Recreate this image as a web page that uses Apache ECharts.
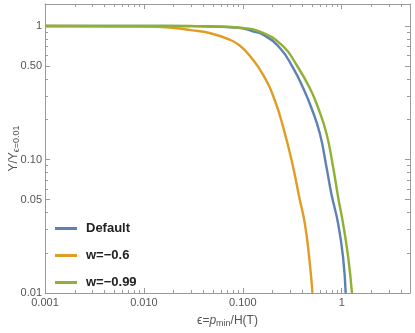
<!DOCTYPE html>
<html>
<head>
<meta charset="utf-8">
<script src="https://cdn.jsdelivr.net/npm/echarts@6/dist/echarts.min.js"></script>
<style>
  html, body { margin: 0; padding: 0; background: #fff; }
  #chart { width: 415px; height: 333px; }
</style>
</head>
<body>
<div id="chart"></div>
<script>
// values (log-log plot)
const seriesNames = ["Default", "w=\u22120.6", "w=\u22120.99"]
const colors = ["#5E81B5", "#E19C24", "#8FB032"]

const xDefault = [0.001, 0.01, 0.03, 0.05, 0.074, 0.1, 0.126, 0.16, 0.237, 0.322, 0.407, 0.494, 0.6, 0.7, 0.787, 0.918, 1.03, 1.096]
const yDefault = [1, 1, 0.997, 0.99, 0.978, 0.96, 0.91, 0.861, 0.684, 0.485, 0.343, 0.243, 0.157, 0.0883, 0.055, 0.0333, 0.0187, 0.01]

const xW06 = [0.001, 0.01, 0.02, 0.03, 0.046, 0.074, 0.093, 0.118, 0.16, 0.21, 0.266, 0.322, 0.371, 0.423, 0.468, 0.506]
const yW06 = [1, 0.99, 0.966, 0.93, 0.886, 0.789, 0.714, 0.596, 0.432, 0.279, 0.157, 0.0883, 0.0526, 0.0333, 0.0187, 0.01]

const xW099 = [0.001, 0.01, 0.03, 0.05, 0.1, 0.16, 0.255, 0.348, 0.475, 0.573, 0.7, 0.817, 0.918, 1.03, 1.16, 1.27]
const yW099 = [1, 1, 0.998, 0.993, 0.965, 0.886, 0.705, 0.513, 0.343, 0.247, 0.157, 0.0883, 0.0526, 0.0333, 0.0187, 0.01]

// ticks
const xLabelValues = [0.001, 0.01, 0.1, 1]
const xLabelTexts = ["0.001", "0.010", "0.100", "1"]
const xMinorTicks = [0.002, 0.003, 0.004, 0.005, 0.006, 0.007, 0.008, 0.009,
  0.02, 0.03, 0.04, 0.05, 0.06, 0.07, 0.08, 0.09,
  0.2, 0.3, 0.4, 0.5, 0.6, 0.7, 0.8, 0.9, 2, 3, 4]
const yLabelValues = [0.01, 0.05, 0.1, 0.5, 1]
const yLabelTexts = ["0.01", "0.05", "0.10", "0.50", "1"]
const yMinorTicks = [0.02, 0.03, 0.04, 0.06, 0.07, 0.08, 0.09,
  0.2, 0.3, 0.4, 0.6, 0.7, 0.8, 0.9]

const X_MIN = 0.001, X_MAX = 4.9
const Y_MIN = 0.01, Y_MAX = 1.46

const frameColor = "#9a9a9a"
const font = "Liberation Sans, Arial, sans-serif"

// label lookup, value may arrive raw or as log10
const pickLabel = (v, vals, texts) => {
  const lv = v > 0 ? Math.log10(v) : v
  let best = 0
  vals.forEach((t, i) => {
    if (Math.abs(Math.log10(t) - lv) < Math.abs(Math.log10(vals[best]) - lv)) best = i
  })
  return texts[best]
}

const makeAxis = (pos, ticks, len, opts) => Object.assign({
  type: "log",
  logBase: 10,
  position: pos,
  min: pos === "bottom" || pos === "top" ? X_MIN : Y_MIN,
  max: pos === "bottom" || pos === "top" ? X_MAX : Y_MAX,
  axisLine: { show: true, lineStyle: { color: frameColor, width: 1 } },
  axisTick: { show: true, inside: true, length: len, customValues: ticks,
    lineStyle: { color: frameColor, width: 1 } },
  axisLabel: { show: false },
  splitLine: { show: false },
  minorTick: { show: false },
}, opts || {})

const option = {
  animation: false,
  color: colors,
  grid: { left: 45, right: 5, top: 4, bottom: 40, containLabel: false, outerBoundsMode: "none" },
  legend: {
    orient: "vertical",
    left: 50,
    top: 217,
    itemGap: 14,
    itemWidth: 22,
    itemHeight: 3,
    icon: "rect",
    textStyle: { fontFamily: font, fontWeight: "bold", fontSize: 13, color: "#222", padding: [0, 0, 0, 4] },
    data: seriesNames,
  },
  xAxis: [
    makeAxis("bottom", xLabelValues, 5, {
      axisLabel: {
        show: true, customValues: xLabelValues, margin: 4,
        color: "#555", fontSize: 11, fontFamily: font,
        formatter: (v) => pickLabel(v, xLabelValues, xLabelTexts),
      },
      name: "{e|\u03f5}{t|=}{p|p}{s|min}{t|/H(T)}",
      nameLocation: "middle",
      nameGap: 20,
      nameMoveOverlap: false,
      nameTextStyle: {
        fontFamily: font, color: "#555",
        rich: {
          e: { fontSize: 12, color: "#555", fontFamily: font },
          t: { fontSize: 12, color: "#555", fontFamily: font },
          p: { fontSize: 12, color: "#555", fontFamily: font, fontStyle: "italic" },
          s: { fontSize: 9, color: "#555", fontFamily: font, verticalAlign: "bottom", padding: [6, 0, 0, 0] },
        },
      },
    }),
    makeAxis("bottom", xMinorTicks, 3, { axisLine: { show: false } }),
    makeAxis("top", xLabelValues, 5),
    makeAxis("top", xMinorTicks, 3, { axisLine: { show: false } }),
  ],
  yAxis: [
    makeAxis("left", yLabelValues, 5, {
      axisLabel: {
        show: true, customValues: yLabelValues, margin: 3,
        color: "#555", fontSize: 11, fontFamily: font,
        formatter: (v) => pickLabel(v, yLabelValues, yLabelTexts),
      },
      name: "{t|Y/Y}{s|\u03f5=0.01}",
      nameLocation: "middle",
      nameGap: 24,
      nameMoveOverlap: false,
      nameTextStyle: {
        fontFamily: font, color: "#555",
        rich: {
          t: { fontSize: 12, color: "#555", fontFamily: font },
          s: { fontSize: 9, color: "#555", fontFamily: font, verticalAlign: "bottom", padding: [6, 0, 0, 0] },
        },
      },
    }),
    makeAxis("left", yMinorTicks, 3, { axisLine: { show: false } }),
    makeAxis("right", yLabelValues, 5),
    makeAxis("right", yMinorTicks, 3, { axisLine: { show: false } }),
  ],
  series: [
    [xDefault, yDefault],
    [xW06, yW06],
    [xW099, yW099],
  ].map(([xs, ys], i) => ({
    name: seriesNames[i],
    type: "line",
    xAxisIndex: 0,
    yAxisIndex: 0,
    showSymbol: false,
    smooth: 0.5,
    lineStyle: { width: 2.4, color: colors[i] },
    itemStyle: { color: colors[i] },
    data: xs.map((x, j) => [x, ys[j]]),
  })),
}

const chart = echarts.init(document.getElementById("chart"))
chart.setOption(option)
window.addEventListener("resize", () => {
  chart.resize()
})
</script>
</body>
</html>
